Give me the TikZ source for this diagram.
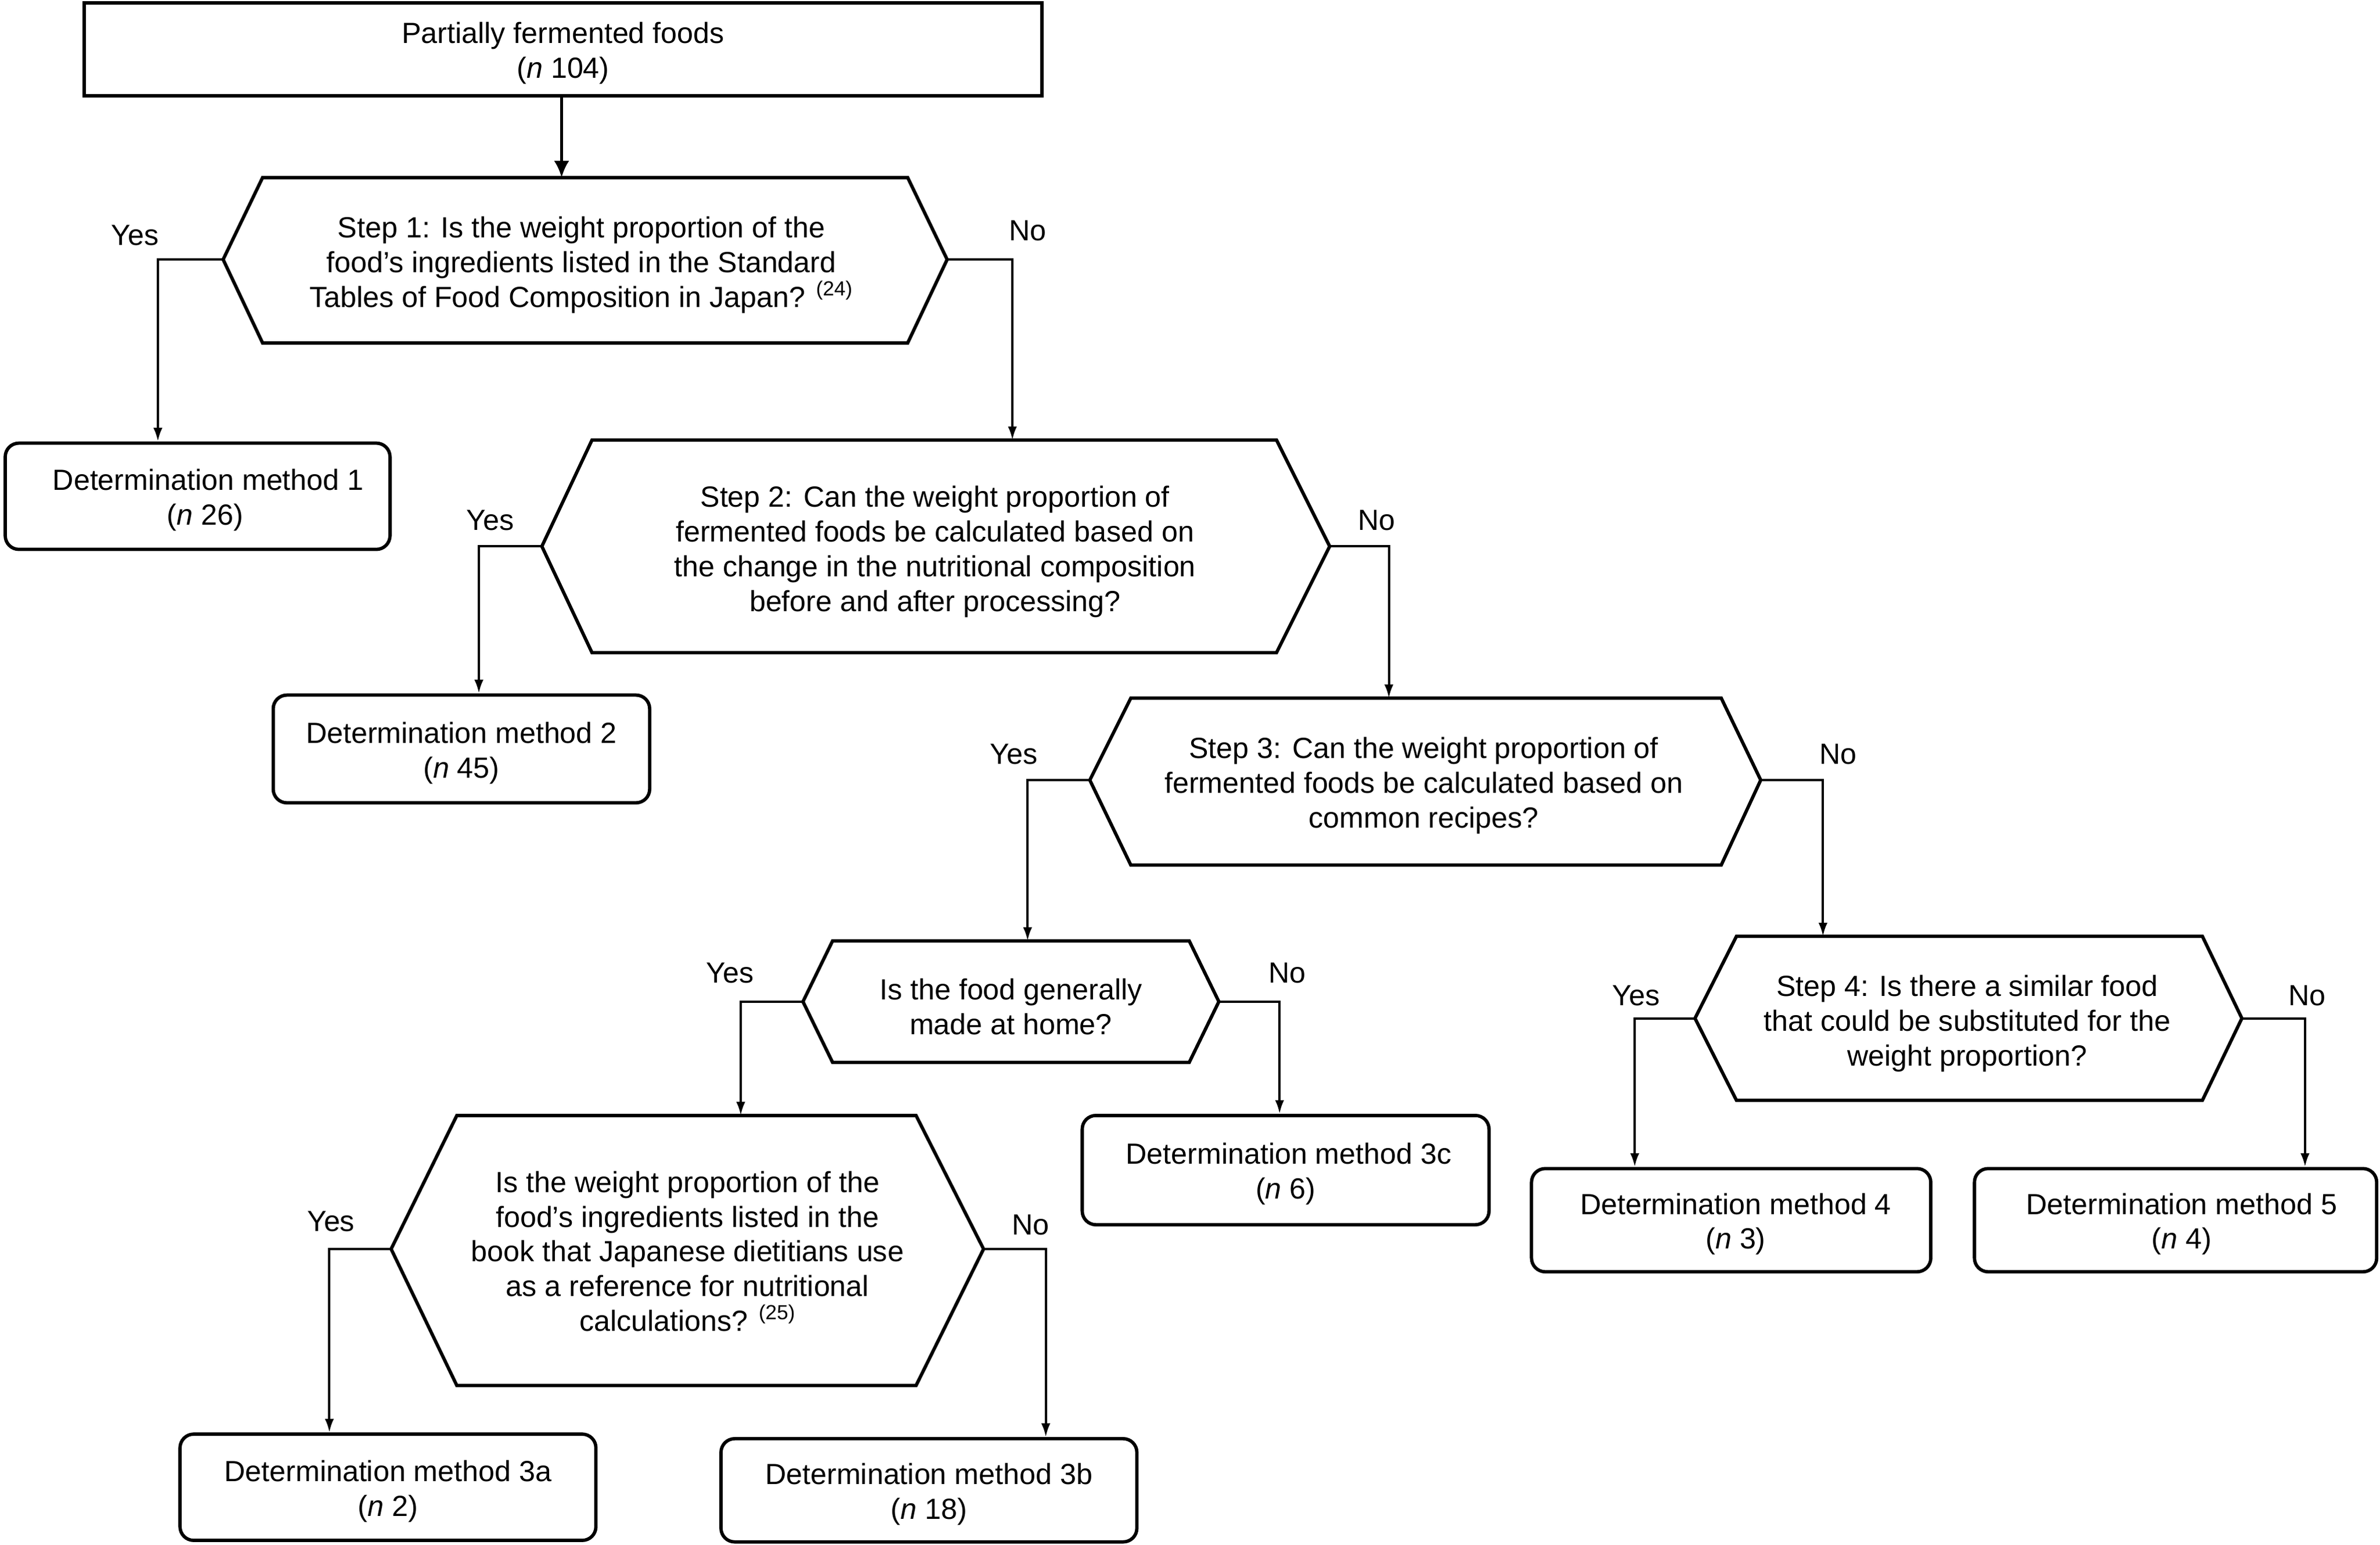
\documentclass[tikz,border=0pt]{standalone}
\usepackage{fontspec}
\setmainfont{Liberation Sans}
\usetikzlibrary{arrows.meta}
\newcommand{\stt}{\rule{0pt}{19pt}}
\begin{document}
\begin{tikzpicture}[x=1pt,y=-1pt,
  font=\fontsize{19.2}{22.9}\selectfont,
  shp/.style={line width=2.2pt, line join=miter},
  conn/.style={line width=1.5pt},
  arr/.style={conn,-{Latex[length=9pt,width=6pt]}},
  bigarr/.style={line width=1.8pt,-{Latex[length=11pt,width=10pt]}},
  txt/.style={align=center, inner sep=0pt, yshift=-2.5pt},
  mbox/.style={draw, line width=2.2pt, rounded corners=9pt, align=center, inner sep=0pt},
  lab/.style={inner sep=0pt}]
\useasboundingbox (0,0) rectangle (1568,1018);

% top box
\node[draw, line width=2.2pt, minimum width=631pt, minimum height=61pt, align=center, inner sep=0pt] (top) at (371,32.5) {\stt Partially fermented foods\\(\textit{n} 104)};

% Step 1 hexagon
\draw[shp] (147,171) coordinate (h1L) -- (173,117) coordinate (h1TL) -- (598,117) -- (624,171) coordinate (h1R) -- (598,226) -- (173,226) -- cycle;
\node[txt] (h1) at (383,172) {Step 1: Is the weight proportion of the\\food’s ingredients listed in the Standard\\Tables of Food Composition in Japan? \textsuperscript{(24)}};

% Method 1
\node[mbox, minimum width=253.5pt, minimum height=70pt] (m1) at (130.2,327) {\stt\hspace*{14pt}Determination method 1\\\hspace*{10pt}(\textit{n} 26)};

% Step 2 hexagon
\draw[shp] (357,360) coordinate (h2L) -- (390,290) coordinate (h2TL) -- (841,290) -- (876,360) coordinate (h2R) -- (841,430) -- (390,430) -- cycle;
\node[txt] (h2) at (616,361) {Step 2: Can the weight proportion of\\fermented foods be calculated based on\\the change in the nutritional composition\\before and after processing?};

% Method 2
\node[mbox, minimum width=248pt, minimum height=71pt] (m2) at (304,493.5) {\stt Determination method 2\\(\textit{n} 45)};

% Step 3 hexagon
\draw[shp] (718,514) coordinate (h3L) -- (745,460) coordinate (h3TL) -- (1134,460) -- (1160,514) coordinate (h3R) -- (1134,570) -- (745,570) -- cycle;
\node[txt] (h3) at (938,515) {Step 3: Can the weight proportion of\\fermented foods be calculated based on\\common recipes?};

% Home hexagon
\draw[shp] (529,660) coordinate (h5L) -- (548.5,620) coordinate (h5TL) -- (783.5,620) -- (803,660) coordinate (h5R) -- (783.5,700) -- (548.5,700) -- cycle;
\node[txt] (h5) at (666,661) {Is the food generally\\made at home?};

% Method 3c
\node[mbox, minimum width=268pt, minimum height=72pt] (m3c) at (847,771) {\stt\hspace*{4pt}Determination method 3c\\(\textit{n} 6)};

% Bottom hexagon
\draw[shp] (257.7,823) coordinate (h6L) -- (301,735) coordinate (h6TL) -- (603.5,735) -- (648,823) coordinate (h6R) -- (603.5,913) -- (301,913) -- cycle;
\node[txt] (h6) at (453,822) {Is the weight proportion of the\\food’s ingredients listed in the\\book that Japanese dietitians use\\as a reference for nutritional\\calculations? \textsuperscript{(25)}};

% Methods 3a, 3b
\node[mbox, minimum width=274pt, minimum height=70pt] (m3a) at (255.6,980) {\stt Determination method 3a\\(\textit{n} 2)};
\node[mbox, minimum width=274pt, minimum height=68pt] (m3b) at (612,982) {\stt Determination method 3b\\(\textit{n} 18)};

% Step 4 hexagon
\draw[shp] (1116.7,671) coordinate (h4L) -- (1144,617) coordinate (h4TL) -- (1451,617) -- (1477,671) coordinate (h4R) -- (1451,725) -- (1144,725) -- cycle;
\node[txt] (h4) at (1296,672) {Step 4: Is there a similar food\\that could be substituted for the\\weight proportion?};

% Methods 4, 5
\node[mbox, minimum width=263pt, minimum height=68pt] (m4) at (1140.5,804) {\stt\hspace*{6pt}Determination method 4\\\hspace*{6pt}(\textit{n} 3)};
\node[mbox, minimum width=265pt, minimum height=68pt] (m5) at (1433.3,804) {\stt\hspace*{8pt}Determination method 5\\\hspace*{8pt}(\textit{n} 4)};

% connectors
\coordinate (c1) at (370,63);
\draw[bigarr] (c1) -- (c1 |- h1TL);

\coordinate (y1) at (104,171);
\draw[arr] (h1L) -- (y1) -- (y1 |- m1.north);
\coordinate (n1) at (667,171);
\draw[arr] (h1R) -- (n1) -- (n1 |- h2TL);

\coordinate (y2) at (315.5,360);
\draw[arr] (h2L) -- (y2) -- (y2 |- m2.north);
\coordinate (n2) at (915,360);
\draw[arr] (h2R) -- (n2) -- (n2 |- h3TL);

\coordinate (y3) at (677,514);
\draw[arr] (h3L) -- (y3) -- (y3 |- h5TL);
\coordinate (n3) at (1201,514);
\draw[arr] (h3R) -- (n3) -- (n3 |- h4TL);

\coordinate (y5) at (488,660);
\draw[arr] (h5L) -- (y5) -- (y5 |- h6TL);
\coordinate (n5) at (843,660);
\draw[arr] (h5R) -- (n5) -- (n5 |- m3c.north);

\coordinate (y6) at (217,823);
\draw[arr] (h6L) -- (y6) -- (y6 |- m3a.north);
\coordinate (n6) at (689,823);
\draw[arr] (h6R) -- (n6) -- (n6 |- m3b.north);

\coordinate (y4) at (1077,671);
\draw[arr] (h4L) -- (y4) -- (y4 |- m4.north);
\coordinate (n4) at (1518.6,671);
\draw[arr] (h4R) -- (n4) -- (n4 |- m5.north);

% labels
\node[lab] (ly1) at (89,155) {Yes};
\node[lab] (ln1) at (677,152) {No};
\node[lab] (ly2) at (323,343) {Yes};
\node[lab] (ln2) at (907,343) {No};
\node[lab] (ly3) at (668,497) {Yes};
\node[lab] (ln3) at (1211,497) {No};
\node[lab] (ly5) at (481,641) {Yes};
\node[lab] (ln5) at (848,641) {No};
\node[lab] (ly6) at (218,805) {Yes};
\node[lab] (ln6) at (679,807) {No};
\node[lab] (ly4) at (1078,656) {Yes};
\node[lab] (ln4) at (1520,656) {No};
\end{tikzpicture}
\end{document}
